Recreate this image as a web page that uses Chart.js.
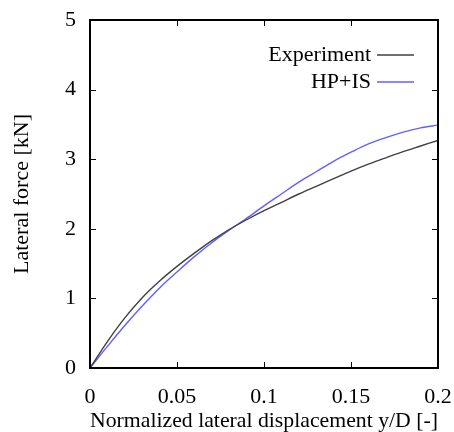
<!DOCTYPE html>
<html>
<head>
<meta charset="utf-8">
<script src="https://cdn.jsdelivr.net/npm/chart.js"></script>
<style>
  html, body { margin: 0; padding: 0; background: #ffffff; }
  #wrap { width: 454px; height: 432px; }
</style>
</head>
<body>
<div id="wrap"><canvas id="chart" width="454" height="432"></canvas></div>
<script>
// Data
const displacement = [0, 0.01, 0.02, 0.03, 0.04, 0.05, 0.06, 0.07, 0.08, 0.09, 0.1,
                      0.11, 0.12, 0.13, 0.14, 0.15, 0.16, 0.17, 0.18, 0.19, 0.2];
const experimentForce = [0, 0.38, 0.72, 1.01, 1.25, 1.46, 1.65, 1.83, 1.99, 2.13, 2.26,
                         2.38, 2.5, 2.61, 2.72, 2.83, 2.93, 3.02, 3.11, 3.19, 3.27];
const hpisForce = [0, 0.31, 0.61, 0.89, 1.15, 1.38, 1.6, 1.8, 1.98, 2.15, 2.33,
                   2.5, 2.67, 2.82, 2.97, 3.1, 3.22, 3.31, 3.39, 3.45, 3.49];
const xTicks = [0, 0.05, 0.1, 0.15, 0.2];
const xTickLabels = ['0', '0.05', '0.1', '0.15', '0.2'];
const yTicks = [0, 1, 2, 3, 4, 5];
const yTickLabels = ['0', '1', '2', '3', '4', '5'];
const seriesNames = ['Experiment', 'HP+IS'];

const FONT = '"Liberation Serif", "Times New Roman", serif';
const colors = ['rgb(64,64,64)', 'rgb(96,96,255)'];

function toPoints(ys) {
  return displacement.map((x, i) => ({ x: x, y: ys[i] }));
}

// gnuplot style frame: box, inward ticks on all sides, legend with sample right of text
const framePlugin = {
  id: 'frame',
  afterDraw(chart) {
    const ctx = chart.ctx;
    const a = chart.chartArea;
    const xs = chart.scales.x, ys = chart.scales.y;
    const tl = 6;
    ctx.save();
    ctx.strokeStyle = '#000';
    ctx.lineWidth = 1;
    ctx.beginPath();
    xTicks.forEach(v => {
      const px = Math.round(xs.getPixelForValue(v)) + 0.5;
      ctx.moveTo(px, a.bottom); ctx.lineTo(px, a.bottom - tl);
      ctx.moveTo(px, a.top); ctx.lineTo(px, a.top + tl);
    });
    yTicks.forEach(v => {
      const py = Math.round(ys.getPixelForValue(v)) + 0.5;
      ctx.moveTo(a.left, py); ctx.lineTo(a.left + tl, py);
      ctx.moveTo(a.right, py); ctx.lineTo(a.right - tl, py);
    });
    ctx.stroke();
    ctx.lineWidth = 2;
    ctx.strokeRect(a.left, a.top, a.right - a.left, a.bottom - a.top);

    // legend
    ctx.font = '22px ' + FONT;
    ctx.textAlign = 'right';
    ctx.textBaseline = 'middle';
    chart.data.datasets.forEach((ds, i) => {
      const y = a.top + 35 + i * 27;
      ctx.fillStyle = '#000';
      ctx.fillText(ds.label, a.right - 67, y);
      ctx.strokeStyle = ds.borderColor;
      ctx.lineWidth = 1.4;
      ctx.beginPath();
      ctx.moveTo(a.right - 61, y);
      ctx.lineTo(a.right - 24, y);
      ctx.stroke();
    });
    ctx.restore();
  }
};

new Chart(document.getElementById('chart'), {
  type: 'scatter',
  data: {
    datasets: [
      { label: seriesNames[0], data: toPoints(experimentForce), showLine: true,
        borderColor: colors[0], borderWidth: 1.4, pointRadius: 0,
        cubicInterpolationMode: 'monotone' },
      { label: seriesNames[1], data: toPoints(hpisForce), showLine: true,
        borderColor: colors[1], borderWidth: 1.4, pointRadius: 0,
        cubicInterpolationMode: 'monotone' }
    ]
  },
  options: {
    responsive: false,
    animation: false,
    layout: { padding: { top: 20, right: 16, left: 0, bottom: 0 } },
    plugins: { legend: { display: false }, tooltip: { enabled: false } },
    scales: {
      x: {
        type: 'linear', min: 0, max: 0.2,
        afterBuildTicks: s => { s.ticks = xTicks.map(v => ({ value: v })); },
        afterFit: s => { s.height = 64; s.paddingLeft = 0; s.paddingRight = 0; },
        grid: { display: false },
        border: { display: false },
        ticks: {
          color: '#000', padding: 8, maxRotation: 0,
          font: { family: FONT, size: 22 },
          callback: (v) => xTickLabels[xTicks.indexOf(+(+v).toFixed(2))]
        },
        title: {
          display: true, text: 'Normalized lateral displacement y/D [-]',
          color: '#000', font: { family: FONT, size: 22, lineHeight: 1 },
          padding: { top: 0, bottom: 0 }
        }
      },
      y: {
        type: 'linear', min: 0, max: 5,
        afterBuildTicks: s => { s.ticks = yTicks.map(v => ({ value: v })); },
        afterFit: s => { s.width = 90; s.paddingTop = 0; s.paddingBottom = 0; },
        grid: { display: false },
        border: { display: false },
        ticks: {
          color: '#000', padding: 6,
          font: { family: FONT, size: 22 },
          callback: (v) => yTickLabels[yTicks.indexOf(+v)]
        },
        title: {
          display: true, text: 'Lateral force [kN]',
          color: '#000', font: { family: FONT, size: 22, lineHeight: 1 },
          padding: { top: 11, bottom: 0 }
        }
      }
    }
  },
  plugins: [framePlugin]
});
</script>
</body>
</html>
